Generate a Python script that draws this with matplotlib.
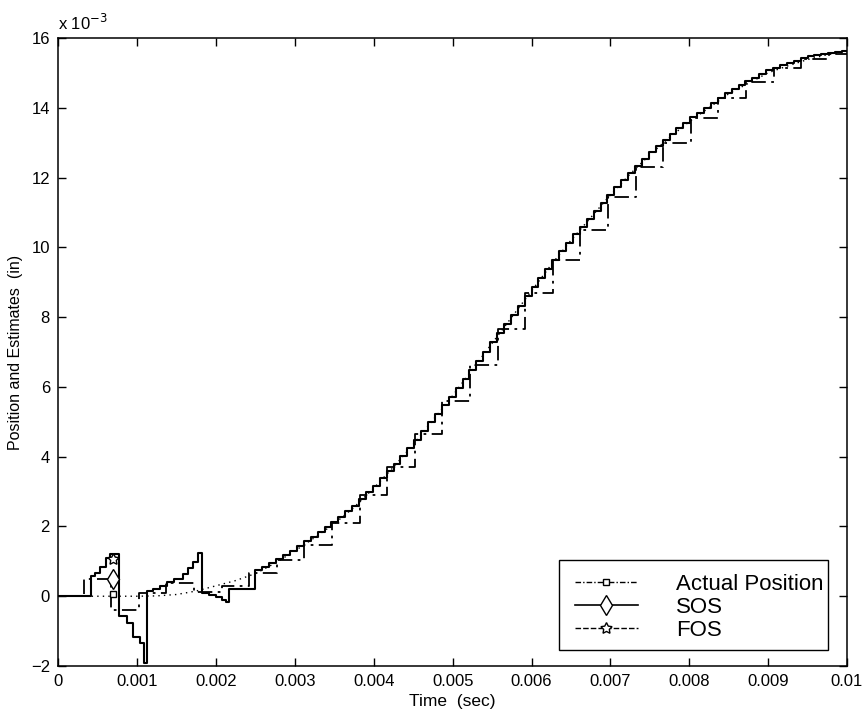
import numpy as np
import matplotlib
matplotlib.use("Agg")
import matplotlib.pyplot as plt
from matplotlib.lines import Line2D
from matplotlib.patches import Rectangle

plt.rcParams['font.family'] = ['Liberation Sans', 'DejaVu Sans']

# ---------------- data (time in ms, position in 1e-3 in) ----------------
# Actual position (smooth, dotted)
actual_t = [0, 0.25, 0.5, 0.75, 1.0, 1.25, 1.5, 1.75, 2.0, 2.25, 2.5, 2.75, 3.0,
            3.25, 3.5, 3.75, 4.0, 4.25, 4.5, 4.75, 5.0, 5.25, 5.5, 5.75, 6.0,
            6.25, 6.5, 6.75, 7.0, 7.25, 7.5, 7.75, 8.0, 8.25, 8.5, 8.75, 9.0,
            9.25, 9.5, 9.75, 10.0]
actual_v = [0, 0, 0, 0, 0, 0.01, 0.05, 0.15, 0.3, 0.45, 0.65, 0.95, 1.3,
            1.68, 2.08, 2.55, 3.1, 3.7, 4.35, 5.05, 5.75, 6.5, 7.25, 8.0, 8.75,
            9.5, 10.2, 10.85, 11.5, 12.1, 12.65, 13.15, 13.6, 14.0, 14.4, 14.7, 15.0,
            15.2, 15.38, 15.52, 15.6]

# SOS estimate: early transient (step starts)
sos_early_t = [0, 0.41, 0.47, 0.53, 0.6, 0.66, 0.77, 0.875, 0.95, 1.04, 1.08,
               1.13, 1.2, 1.29, 1.38, 1.47, 1.58, 1.65, 1.71, 1.77, 1.82, 1.91,
               2.0, 2.08, 2.13, 2.17]
sos_early_v = [0, 0.57, 0.67, 0.85, 1.1, 1.2, -0.57, -0.77, -1.17, -1.35, -1.9,
               0.15, 0.2, 0.3, 0.4, 0.5, 0.65, 0.8, 0.97, 1.23, 0.09, 0.03,
               -0.03, -0.1, -0.17, 0.2]
# SOS estimate after 2.5 ms, one value per sample period
sos_start = 2.5
sos_period = 0.0875
sos_v = [0.75, 0.85, 0.96, 1.07, 1.19, 1.31, 1.44, 1.57, 1.70, 1.84,
         1.98, 2.12, 2.27, 2.44, 2.60, 2.79, 2.98, 3.17, 3.38, 3.59,
         3.80, 4.03, 4.26, 4.49, 4.73, 4.98, 5.22, 5.47, 5.71, 5.96,
         6.23, 6.49, 6.75, 7.01, 7.28, 7.54, 7.80, 8.06, 8.33, 8.59,
         8.85, 9.11, 9.38, 9.64, 9.88, 10.13, 10.37, 10.59, 10.82, 11.05,
         11.28, 11.50, 11.72, 11.93, 12.14, 12.34, 12.53, 12.72, 12.90, 13.08,
         13.25, 13.41, 13.57, 13.72, 13.86, 14.0, 14.14, 14.28, 14.42, 14.55,
         14.65, 14.76, 14.86, 14.97, 15.07, 15.15, 15.22, 15.29, 15.35, 15.42,
         15.48, 15.51, 15.55, 15.58, 15.60, 15.62]

# FOS estimate (held values)
fos_t = [0, 0.32, 0.67, 1.02, 1.37, 1.72, 2.07, 2.42, 2.77, 3.12, 3.47, 3.82,
         4.17, 4.52, 4.87, 5.22, 5.57, 5.92, 6.27, 6.62, 6.97, 7.32, 7.67,
         8.02, 8.37, 8.72, 9.07, 9.42, 9.77]
fos_v = [0, 0.5, -0.4, 0.08, 0.37, 0.12, 0.3, 0.66, 1.03, 1.46, 2.09, 2.89,
         3.7, 4.64, 5.59, 6.62, 7.65, 8.68, 9.63, 10.5, 11.45, 12.3, 13.0,
         13.7, 14.27, 14.73, 15.13, 15.4, 15.55]

# single legend markers
mark_t = 0.69
mark_actual = 0.05
mark_sos = 0.48
mark_fos = 1.08

series_names = ['Actual Position', 'SOS', 'FOS']

x_ticks = [0, 0.001, 0.002, 0.003, 0.004, 0.005, 0.006, 0.007, 0.008, 0.009, 0.01]
x_labels = ['0', '0.001', '0.002', '0.003', '0.004', '0.005', '0.006', '0.007',
            '0.008', '0.009', '0.01']
y_ticks = [-2, 0, 2, 4, 6, 8, 10, 12, 14, 16]

# ---------------- plotting ----------------
fig = plt.figure(figsize=(8.68, 7.17), dpi=100)
ax = fig.add_axes([0.0672, 0.0711, 0.9086, 0.876])

sec = 1e-3
at = np.array(actual_t) * sec
ax.plot(at, actual_v, ls=(0, (1, 3)), color='k', lw=1.0)

sos_late_t = sos_start + sos_period * np.arange(len(sos_v))
st = np.concatenate([np.array(sos_early_t), sos_late_t, [10.0]]) * sec
sv = np.concatenate([np.array(sos_early_v), sos_v, [sos_v[-1]]])
ax.step(st, sv, where='post', color='k', lw=1.5)

ft = np.concatenate([np.array(fos_t), [10.0]]) * sec
fv = np.concatenate([np.array(fos_v), [fos_v[-1]]])
ax.step(ft, fv, where='post', color='k', lw=1.3, ls=(0, (8, 3, 1.5, 3)))

star = (5, 1, 0)
ax.plot([mark_t * sec], [mark_actual], marker='s', ms=4.5, mfc='white', mec='k', mew=1)
ax.plot([mark_t * sec], [mark_sos], marker='d', ms=10.5, mfc='white', mec='k', mew=1)
ax.plot([mark_t * sec], [mark_fos], marker=star, ms=8.5, mfc='white', mec='k', mew=1)

ax.set_xlim(0, 0.01)
ax.set_ylim(-2, 16)
ax.set_xticks(x_ticks)
ax.set_xticklabels(x_labels)
ax.set_yticks(y_ticks)
ax.tick_params(direction='in', top=True, right=True, length=6, width=1,
               labelsize=12, pad=6, colors='k')
for s in ax.spines.values():
    s.set_linewidth(1.1)

ax.set_xlabel('Time  (sec)', fontsize=12.5, labelpad=3)
ax.set_ylabel('Position and Estimates  (in)', fontsize=11.5, labelpad=6)
ax.text(0.0, 1.008, r'x 10$^{-3}$', transform=ax.transAxes, fontsize=12,
        ha='left', va='bottom')

handles = [
    Line2D([0], [0], color='k', lw=1.0, ls=(0, (4, 1.5, 1, 1.5)), marker='s',
           ms=4.5, mfc='white', mec='k', markevery=[1]),
    Line2D([0], [0], color='k', lw=1.2, ls='-', marker='d', ms=10.5,
           mfc='white', mec='k', markevery=[1]),
    Line2D([0], [0], color='k', lw=1.0, ls=(0, (4, 1.5)), marker=star, ms=8.5,
           mfc='white', mec='k', markevery=[1]),
]
for h in handles:
    h.set_data([0, 0.5, 1], [0, 0, 0])

# legend frame drawn as a rectangle (text runs right up to the frame)
ax.add_patch(Rectangle((0.6348, 0.0255), 0.9759 - 0.6348, 0.1688 - 0.0255,
                       transform=ax.transAxes, facecolor='white', edgecolor='k',
                       lw=1.0, zorder=4))
leg = ax.legend(handles, series_names, loc='upper left',
                bbox_to_anchor=(0.6551, 0.1465), borderaxespad=0, fontsize=16,
                frameon=False, handlelength=2.82, handletextpad=1.72,
                labelspacing=0.08, borderpad=0)
leg.set_zorder(5)

fig.savefig('out.png', dpi=100)
